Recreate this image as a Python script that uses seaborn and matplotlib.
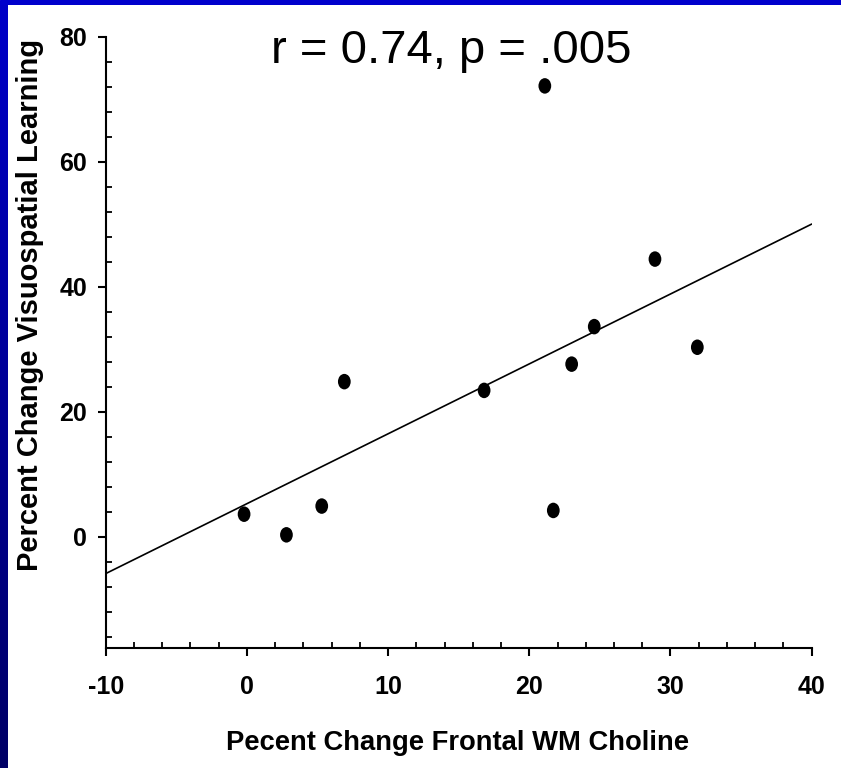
import numpy as np
import pandas as pd
import matplotlib
matplotlib.use("Agg")
import matplotlib.pyplot as plt
from matplotlib.path import Path
from matplotlib.transforms import Affine2D
from matplotlib.ticker import MultipleLocator
import seaborn as sns

# Per-subject percent changes
choline_change = [-0.2, 2.8, 5.3, 6.9, 16.8, 21.1, 21.7, 23.0, 24.6, 28.9, 31.9]
learning_change = [3.6, 0.3, 4.9, 24.8, 23.4, 72.1, 4.2, 27.6, 33.6, 44.4, 30.3]

# Least-squares fit line evaluated at the x-axis limits
fit_x = [-10, 40]
fit_y = [-5.9, 50.0]

x_ticks = [-10, 0, 10, 20, 30, 40]
y_ticks = [0, 20, 40, 60, 80]
stat_label = "r = 0.74, p = .005"

df = pd.DataFrame({"choline": choline_change, "learning": learning_change})
fit_df = pd.DataFrame({"x": fit_x, "y": fit_y})

sns.set_theme(style="white")
plt.rcParams["font.family"] = ["Liberation Sans", "DejaVu Sans"]
plt.rcParams["axes.unicode_minus"] = False

W, H = 841, 768
fig = plt.figure(figsize=(W / 100, H / 100), dpi=100)
fig.patch.set_facecolor("white")

# Blue slide frame: top band and left gradient strip
top = fig.add_axes([0, 1 - 5 / H, 1, 5 / H])
top.set_axis_off()
top.add_patch(plt.Rectangle((0, 0), 1, 1, color="#0000cc", transform=top.transAxes))
left = fig.add_axes([0, 0, 8 / W, 1 - 5 / H])
grad = np.linspace(0, 1, 256)[:, None]
cmap = matplotlib.colors.LinearSegmentedColormap.from_list("frame", ["#0000c8", "#000066"])
left.imshow(grad, aspect="auto", cmap=cmap, extent=[0, 1, 0, 1])
left.set_axis_off()

# Plot area
x0, x1 = 105.7, 811.7
y_top, y_bot = 36.5, 648.0
ax = fig.add_axes([x0 / W, 1 - y_bot / H, (x1 - x0) / W, (y_bot - y_top) / H])
ax.set_facecolor("white")

ellipse = Path.unit_circle().transformed(Affine2D().scale(0.82, 1.0))
sns.scatterplot(data=df, x="choline", y="learning", ax=ax, color="black",
                marker=ellipse, s=125, edgecolor="none", zorder=3)
sns.lineplot(data=fit_df, x="x", y="y", ax=ax, color="black", linewidth=1.2, zorder=2)

ax.set_xlim(-10, 40)
ax.set_ylim(-17.8, 80)
ax.set_xticks(x_ticks)
ax.set_yticks(y_ticks)
ax.xaxis.set_minor_locator(MultipleLocator(2))
ax.yaxis.set_minor_locator(MultipleLocator(4))

for side in ("top", "right"):
    ax.spines[side].set_visible(False)
for side in ("left", "bottom"):
    ax.spines[side].set_linewidth(1.5)
    ax.spines[side].set_color("black")

ax.tick_params(axis="both", which="major", direction="out", length=5.5, width=1.5,
               colors="black", labelsize=18)
ax.tick_params(axis="both", which="minor", direction="in", length=4, width=1.3,
               colors="black")
ax.tick_params(axis="x", which="major", pad=14, bottom=True)
ax.tick_params(axis="y", which="major", pad=8, left=True)
ax.tick_params(axis="x", which="minor", bottom=True)
ax.tick_params(axis="y", which="minor", left=True)
for lab in ax.get_xticklabels() + ax.get_yticklabels():
    lab.set_fontweight("bold")

ax.set_xlabel("")
ax.set_ylabel("")

fig.text(458 / W, 1 - 743 / H, "Pecent Change Frontal WM Choline", ha="center", va="center",
         fontsize=19.7, fontweight="bold", color="black")
fig.text(30 / W, 1 - 305 / H, "Percent Change Visuospatial Learning", ha="center", va="center",
         rotation=90, fontsize=21, fontweight="bold", color="black")
fig.text(451 / W, 1 - 62.7 / H, stat_label, ha="center", va="baseline",
         fontsize=34, color="black")

fig.savefig("out.png", dpi=100, facecolor="white")
